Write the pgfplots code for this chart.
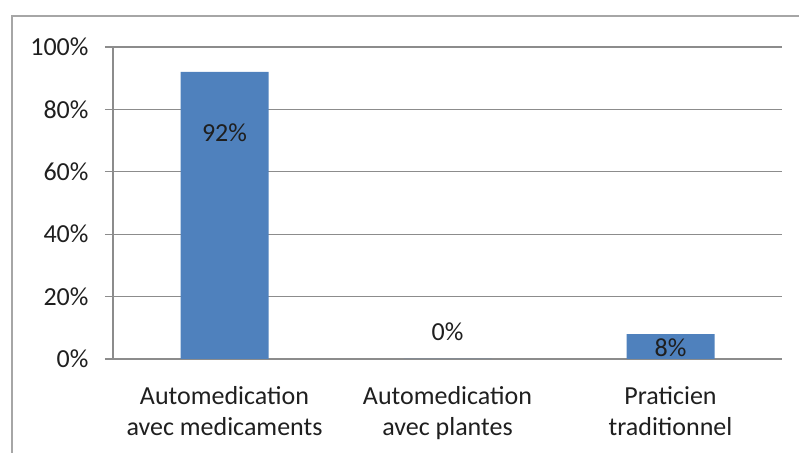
\documentclass[border=0pt]{standalone}
\usepackage{pgfplots}
\pgfplotsset{compat=1.18}
\usepackage{fontspec}
\setmainfont{Carlito}
\definecolor{barblue}{HTML}{4F81BD}
\definecolor{gridgray}{HTML}{8C8C8C}
\definecolor{framegray}{HTML}{A6A6A6}
\definecolor{txt}{HTML}{1F1F1F}
\begin{document}
\begin{tikzpicture}
\path[use as bounding box] (0,0) rectangle (799bp,453bp);
\draw[framegray, line width=1.2bp] (12bp,-5bp) -- (12bp,437bp) -- (805bp,437bp);
\begin{axis}[
  at={(113bp,94bp)}, anchor=south west,
  scale only axis, width=669bp, height=312bp,
  xmin=-0.5, xmax=2.5, ymin=0, ymax=100,
  axis x line*=bottom, axis y line*=left,
  axis line style={gridgray, line width=1.2bp, -},
  ytick={0,20,40,60,80,100},
  yticklabel={\pgfmathprintnumber{\tick}\%},
  ymajorgrids, grid style={gridgray, line width=1.2bp},
  y tick style={gridgray, line width=1.2bp},
  major tick length=8bp,
  every tick/.style={gridgray, line width=1.2bp},
  ytick align=outside,
  xtick={0,1,2},
  x tick style={draw=none},
  xticklabels={{Automedication\\avec medicaments},{Automedication\\avec plantes},{Praticien\\traditionnel}},
  xticklabel style={align=center, font=\fontsize{26bp}{31bp}\selectfont, text=txt, yshift=-24bp},
  yticklabel style={font=\fontsize{26bp}{30bp}\selectfont, text=txt, xshift=-13bp},
  extra x ticks={-0.5,0.5,1.5,2.5},
  extra x tick labels={},
  extra x tick style={x tick style={gridgray, line width=1.2bp}, tick align=outside, major tick length=6bp, grid=none},
  /pgf/number format/assume math mode=true,
  clip=false,
]
\addplot[ybar, bar width=88bp, fill=barblue, draw=none] coordinates {(0,92) (1,0) (2,8)};
\node[font=\fontsize{26bp}{30bp}\selectfont, text=txt] at (axis cs:0,72.4) {92\%};
\node[font=\fontsize{26bp}{30bp}\selectfont, text=txt] at (axis cs:1,8.65) {0\%};
\node[font=\fontsize{26bp}{30bp}\selectfont, text=txt] at (axis cs:2,3.5) {8\%};
\end{axis}
\end{tikzpicture}
\end{document}
